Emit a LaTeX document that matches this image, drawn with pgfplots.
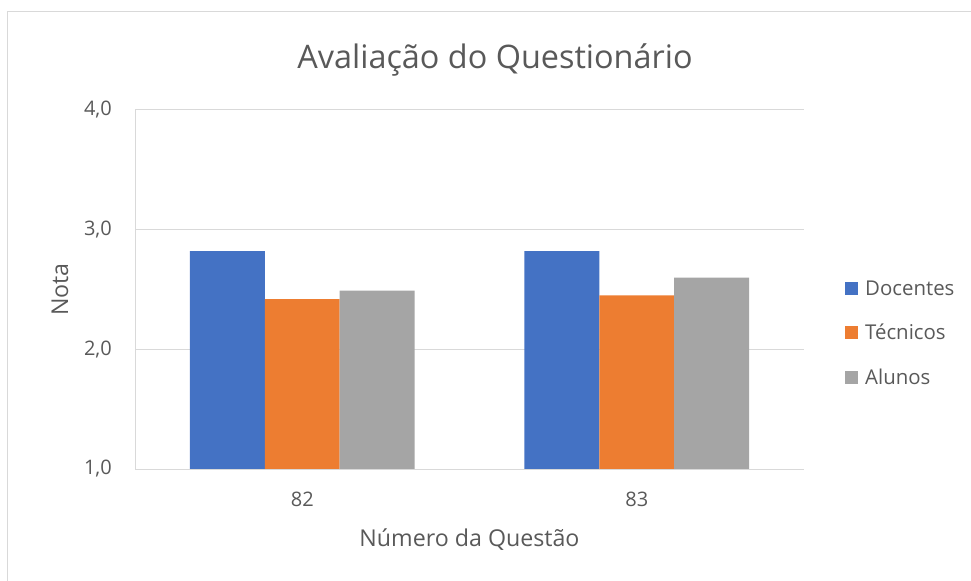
\documentclass[border=0pt]{standalone}
\usepackage{pgfplots}
\pgfplotsset{compat=1.18}
\usepackage{fontspec}
\setmainfont{Open Sans}
\definecolor{cblue}{HTML}{4472C4}
\definecolor{corange}{HTML}{ED7D31}
\definecolor{cgray}{HTML}{A5A5A5}
\definecolor{ctext}{HTML}{595959}
\definecolor{cgrid}{HTML}{D9D9D9}
\definecolor{caxis}{HTML}{BFBFBF}
\begin{document}
\begin{tikzpicture}
\path[use as bounding box] (0bp,0bp) rectangle (971bp,581bp);
\begin{scope}
\clip (0bp,0bp) rectangle (971bp,581bp);
\draw[cgrid, line width=1.5bp] (7.5bp,-10bp) -- (7.5bp,569.5bp) -- (990bp,569.5bp);
\end{scope}
\node[font=\fontsize{32.4bp}{38bp}\selectfont, text=ctext, anchor=base] at (495bp,512bp) {Avaliação do Questionário};
\begin{axis}[
  at={(135bp,112bp)}, anchor=south west,
  scale only axis, width=669bp, height=359bp,
  xmin=-0.5, xmax=1.5, ymin=1, ymax=4,
  ybar, bar width=0.224,
  xtick={0,1}, xticklabels={82,83},
  ytick={1,2,3,4}, yticklabels={{1,0},{2,0},{3,0},{4,0}},
  major tick length=0pt,
  ymajorgrids, grid style={draw=cgrid, line width=1bp},
  axis line style={draw=none},
  tick label style={font=\fontsize{20bp}{24bp}\selectfont, text=ctext, inner sep=0pt},
  yticklabel style={anchor=east, xshift=-23bp},
  xticklabel style={anchor=north, yshift=-23bp},
  xlabel={Número da Questão},
  ylabel={Nota},
  label style={font=\fontsize{23.2bp}{27bp}\selectfont, text=ctext, inner sep=0pt},
  xlabel style={at={(axis description cs:0.5,0)}, anchor=base, yshift=-77bp},
  ylabel style={at={(axis description cs:0,0.5)}, anchor=center, yshift=75bp},
  legend style={draw=none, fill=none, inner sep=0pt, at={(1.0613,0.379)}, anchor=west,
    font=\fontsize{20.4bp}{24bp}\selectfont, text=ctext, row sep=30.5bp,
    nodes={inner sep=0pt, text height=14bp, text depth=0bp},
    /tikz/every odd column/.append style={column sep=7bp}},
  legend cell align=left,
  legend image code/.code={\fill[#1] (0bp,-6.5bp) rectangle (13bp,6.5bp);},
]
\addplot[fill=cblue, draw=none, bar shift=-0.224] coordinates {(0,2.82) (1,2.82)};
\addplot[fill=corange, draw=none, bar shift=0] coordinates {(0,2.42) (1,2.45)};
\addplot[fill=cgray, draw=none, bar shift=0.224] coordinates {(0,2.49) (1,2.60)};
\legend{Docentes,Técnicos,Alunos}
\draw[cgrid, line width=1bp] (rel axis cs:0,0) -- (rel axis cs:0,1);
\draw[caxis, line width=1bp] (rel axis cs:0,0) -- (rel axis cs:1,0);
\end{axis}
\end{tikzpicture}
\end{document}
